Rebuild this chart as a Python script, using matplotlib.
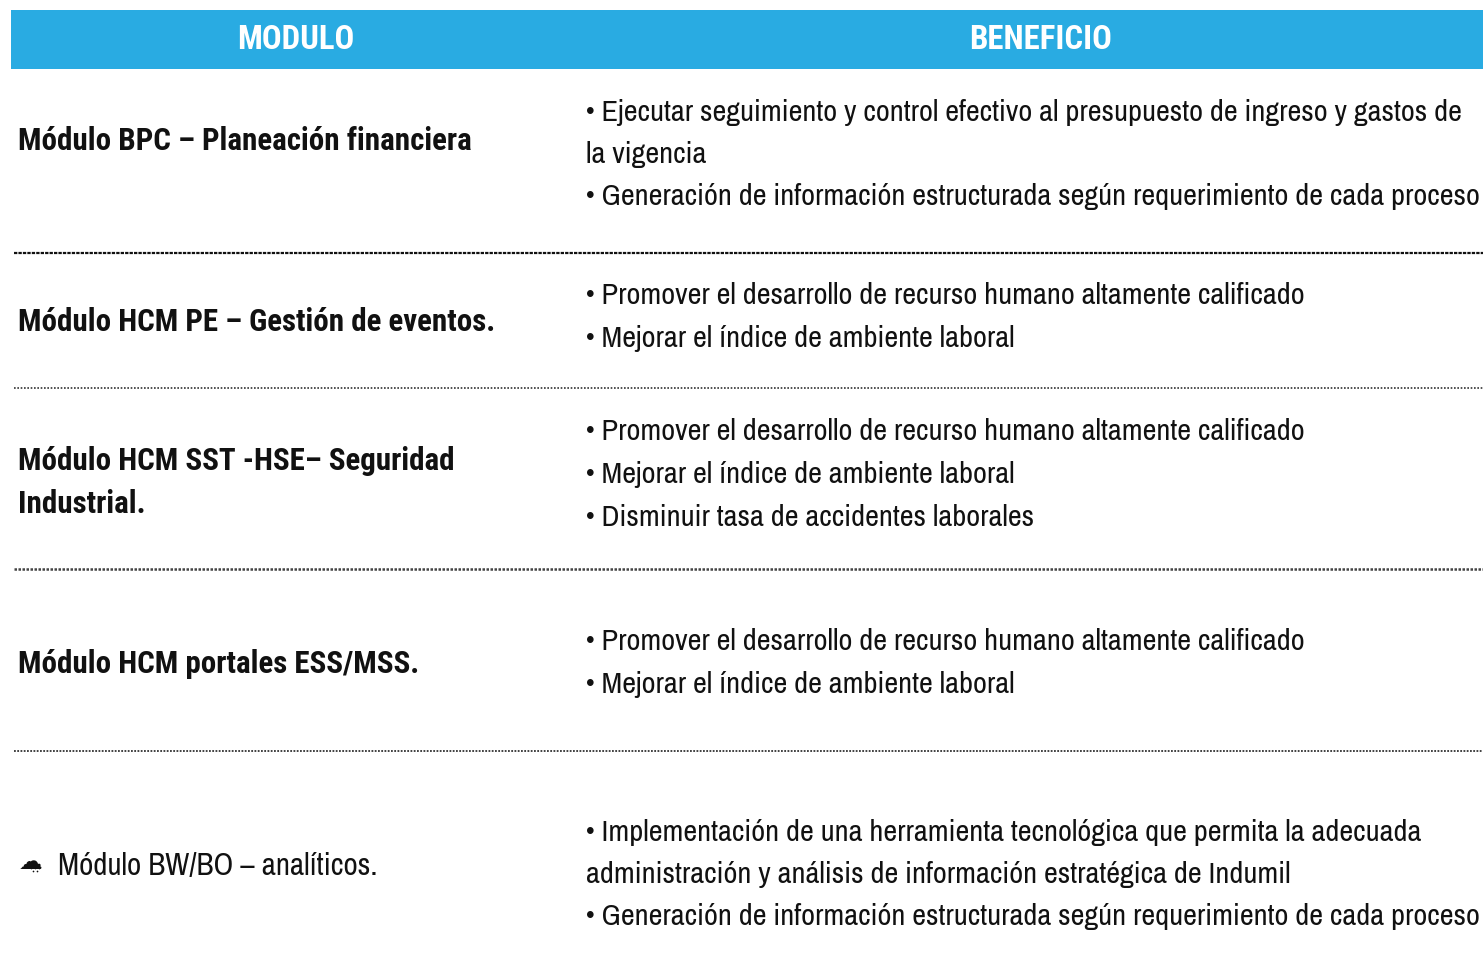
import matplotlib
matplotlib.use('Agg')
import matplotlib.pyplot as plt
from matplotlib.patches import Rectangle

W, H = 1483, 973

headers = ['MODULO', 'BENEFICIO']
modules = ['Módulo BPC – Planeación financiera',
           'Módulo HCM PE – Gestión de eventos.',
           'Módulo HCM SST -HSE– Seguridad',
           'Industrial.',
           'Módulo HCM portales ESS/MSS.']
module_y = [141, 322, 461, 504, 664]
last_module = 'Módulo BW/BO – analíticos.'

benefits = ['• Ejecutar seguimiento y control efectivo al presupuesto de ingreso y gastos de',
            'la vigencia',
            '• Generación de información estructurada según requerimiento de cada proceso',
            '• Promover el desarrollo de recurso humano altamente calificado',
            '• Mejorar el índice de ambiente laboral',
            '• Promover el desarrollo de recurso humano altamente calificado',
            '• Mejorar el índice de ambiente laboral',
            '• Disminuir tasa de accidentes laborales',
            '• Promover el desarrollo de recurso humano altamente calificado',
            '• Mejorar el índice de ambiente laboral',
            '• Implementación de una herramienta tecnológica que permita la adecuada',
            'administración y análisis de información estratégica de Indumil',
            '• Generación de información estructurada según requerimiento de cada proceso']
benefit_y = [112, 154, 197, 296, 338, 432, 474, 517, 642, 685, 832, 874, 917]
rule_y = [253, 388, 569, 751]
rain_x = [31, 35, 39, 33, 37]
rain_y = [868, 868, 868, 871, 871]

regular = ['Archivo Narrow', 'Liberation Sans', 'DejaVu Sans']
bold = ['Roboto Condensed', 'Liberation Sans', 'DejaVu Sans']

fig = plt.figure(figsize=(W / 100, H / 100), dpi=100)
ax = fig.add_axes([0, 0, 1, 1])
ax.set_xlim(0, W)
ax.set_ylim(H, 0)
ax.axis('off')

ax.add_patch(Rectangle((11, 10), W - 11, 59, color='#29ABE2', lw=0))
ax.text(296, 40, headers[0], color='white', fontsize=23.6, fontweight='bold', family=bold, ha='center', va='center')
ax.text(1041, 40, headers[1], color='white', fontsize=23.6, fontweight='bold', family=bold, ha='center', va='center')

for t, y in zip(modules, module_y):
    ax.text(18, y, t, fontsize=22.3, fontweight='bold', family=bold, color='#111111', va='center')
ax.text(58, 866, last_module, fontsize=22.4, family=regular, color='#111111', va='center')
ax.text(19, 862, '☁', fontsize=17, color='#111111', va='center', family='DejaVu Sans')
ax.scatter(rain_x, rain_y, s=1.5, color='#111111', lw=0)

for t, y in zip(benefits, benefit_y):
    ax.text(586, y, t, fontsize=21.9, family=regular, color='#111111', va='center')

ax.plot([14, W], [rule_y[0], rule_y[0]], color='#111111', lw=1.6, ls=(0, (1.5, 0.5)))
ax.plot([14, W], [rule_y[1], rule_y[1]], color='#333333', lw=1.2, ls=(0, (1, 1)))
ax.plot([14, W], [rule_y[2], rule_y[2]], color='#444444', lw=1.8, ls=(0, (1, 0.6)))
ax.plot([14, W], [rule_y[3], rule_y[3]], color='#333333', lw=1.3, ls=(0, (1, 0.8)))

fig.savefig('out.png', dpi=100)
